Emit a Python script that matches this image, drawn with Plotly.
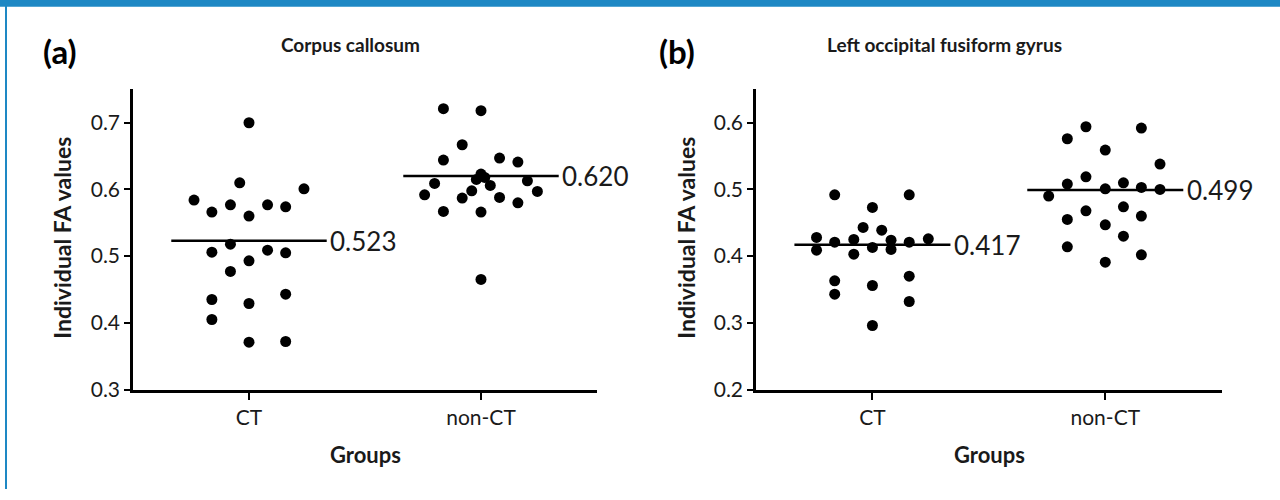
import plotly.graph_objects as go

# ---------------- data ----------------
groups = ["CT", "non-CT"]

# Panel (a) Corpus callosum
a_ct_fa = [0.700, 0.610, 0.601, 0.584, 0.577, 0.577, 0.574, 0.566, 0.560, 0.518,
           0.506, 0.509, 0.505, 0.493, 0.477, 0.435, 0.443, 0.429, 0.405, 0.371, 0.372]
a_ct_off = [0.0, -0.04, 0.237, -0.237, -0.08, 0.08, 0.158, -0.16, 0.0, -0.08,
            -0.16, 0.08, 0.158, 0.0, -0.08, -0.16, 0.158, 0.0, -0.16, 0.0, 0.158]
a_non_fa = [0.721, 0.718, 0.667, 0.644, 0.647, 0.641, 0.623, 0.618, 0.609, 0.615,
            0.606, 0.613, 0.592, 0.587, 0.598, 0.588, 0.597, 0.580, 0.567, 0.566, 0.465]
a_non_off = [-0.162, 0.0, -0.081, -0.162, 0.08, 0.159, 0.0, 0.016, -0.20, -0.02,
             0.04, 0.20, -0.243, -0.081, -0.04, 0.08, 0.243, 0.159, -0.162, 0.0, 0.0]
a_means = [0.523, 0.620]

# Panel (b) Left occipital fusiform gyrus
b_ct_fa = [0.492, 0.492, 0.473, 0.443, 0.439, 0.428, 0.409, 0.421, 0.425, 0.403,
           0.413, 0.424, 0.410, 0.421, 0.426, 0.363, 0.343, 0.356, 0.370, 0.332, 0.296]
b_ct_off = [-0.162, 0.158, 0.0, -0.04, 0.04, -0.24, -0.24, -0.162, -0.08, -0.08,
            0.0, 0.08, 0.08, 0.158, 0.24, -0.162, -0.162, 0.0, 0.158, 0.158, 0.0]
b_non_fa = [0.594, 0.592, 0.576, 0.559, 0.538, 0.519, 0.508, 0.510, 0.501, 0.503,
            0.500, 0.490, 0.468, 0.474, 0.455, 0.460, 0.447, 0.430, 0.414, 0.402, 0.391]
b_non_off = [-0.083, 0.155, -0.163, 0.0, 0.235, -0.083, -0.163, 0.078, 0.0, 0.155,
             0.235, -0.243, -0.083, 0.078, -0.163, 0.155, 0.0, 0.078, -0.163, 0.155, 0.0]
b_means = [0.417, 0.499]

titles = ["Corpus callosum", "Left occipital fusiform gyrus"]
panel_tags = ["(a)", "(b)"]
y_ranges = [[0.3, 0.75], [0.2, 0.65]]
y_ticks = [[0.3, 0.4, 0.5, 0.6, 0.7], [0.2, 0.3, 0.4, 0.5, 0.6]]

# ---------------- figure ----------------
FONT = "Lato"
TXT = "#1a1a1a"
W, H = 1280, 500

fig = go.Figure()

panels = [
    dict(xa="x", ya="y", ct=(a_ct_off, a_ct_fa), non=(a_non_off, a_non_fa), means=a_means),
    dict(xa="x2", ya="y2", ct=(b_ct_off, b_ct_fa), non=(b_non_off, b_non_fa), means=b_means),
]

marker = dict(color="black", size=11, line=dict(width=0))
for p in panels:
    for gi, (offs, vals) in enumerate([p["ct"], p["non"]]):
        fig.add_trace(go.Scatter(
            x=[gi + o for o in offs], y=vals, mode="markers", marker=marker,
            xaxis=p["xa"], yaxis=p["ya"], showlegend=False, cliponaxis=False))
    for gi, m in enumerate(p["means"]):
        fig.add_trace(go.Scatter(
            x=[gi - 0.335, gi + 0.335], y=[m, m], mode="lines",
            line=dict(color="black", width=2.5),
            xaxis=p["xa"], yaxis=p["ya"], showlegend=False))
        fig.add_annotation(x=gi + 0.342, y=m, xref=p["xa"], yref=p["ya"],
                           text=f"{m:.3f}", showarrow=False, xanchor="left",
                           yanchor="middle", font=dict(family=FONT, size=26, color=TXT))

x_domains = [[133 / W, 597 / W], [756 / W, 1221.7 / W]]
y_domain = [(H - 398.3) / H, (H - 91.4) / H]

axis_common = dict(showline=True, linecolor="black", linewidth=2.5, ticks="outside",
                   tickcolor="black", tickwidth=2, showgrid=False, zeroline=False,
                   tickfont=dict(family=FONT, size=21, color=TXT))

for i in range(2):
    sfx = "" if i == 0 else str(i + 1)
    fig.update_layout(**{
        f"xaxis{sfx}": dict(axis_common, domain=x_domains[i], range=[-0.5, 1.5],
                            tickvals=[0, 1], ticktext=groups, ticklen=8,
                            anchor=f"y{sfx}", fixedrange=True),
        f"yaxis{sfx}": dict(axis_common, domain=y_domain, range=y_ranges[i],
                            tickvals=y_ticks[i], ticktext=[f"{v:.1f}" for v in y_ticks[i]],
                            ticklen=6, anchor=f"x{sfx}", fixedrange=True),
    })

# titles, panel tags and axis titles
title_x = [350 / W, 944 / W]
tag_x = [60 / W, 677 / W]
ytitle_x = [62 / W, 686 / W]
groups_x = [365 / W, 989 / W]
for i in range(2):
    fig.add_annotation(x=title_x[i], y=1 - 46 / H, xref="paper", yref="paper",
                       xanchor="center", yanchor="middle",
                       text=f"<b>{titles[i]}</b>", showarrow=False,
                       font=dict(family=FONT, size=19, color=TXT))
    fig.add_annotation(x=tag_x[i], y=1 - 52 / H, xref="paper", yref="paper",
                       xanchor="center", yanchor="middle",
                       text=f"<b>{panel_tags[i]}</b>", showarrow=False,
                       font=dict(family=FONT, size=33, color="black"))
    fig.add_annotation(x=ytitle_x[i], y=1 - 243 / H, xref="paper", yref="paper",
                       xanchor="center", yanchor="middle",
                       text="<b>Individual FA values</b>", showarrow=False, textangle=-90,
                       font=dict(family=FONT, size=23, color=TXT))
    fig.add_annotation(x=groups_x[i], y=1 - 465 / H, xref="paper", yref="paper",
                       xanchor="center", yanchor="middle",
                       text="<b>Groups</b>", showarrow=False,
                       font=dict(family=FONT, size=22, color=TXT))

# blue frame (top band and left rule)
BLUE = "#1e88c4"
fig.add_shape(type="rect", xref="paper", yref="paper", x0=0, x1=1, y0=1 - 7 / H, y1=1,
              fillcolor=BLUE, line=dict(width=0), layer="above")
fig.add_shape(type="rect", xref="paper", yref="paper", x0=5 / W, x1=7 / W, y0=0, y1=1,
              fillcolor=BLUE, line=dict(width=0), layer="above")

fig.update_layout(width=W, height=H, autosize=False, margin=dict(l=0, r=0, t=0, b=0),
                  paper_bgcolor="white", plot_bgcolor="white",
                  font=dict(family=FONT, color=TXT))

fig.write_html("out.html", config={"displayModeBar": False, "responsive": False},
               default_width=f"{W}px", default_height=f"{H}px",
               post_script="document.body.style.margin='0';document.body.style.overflow='hidden';")
